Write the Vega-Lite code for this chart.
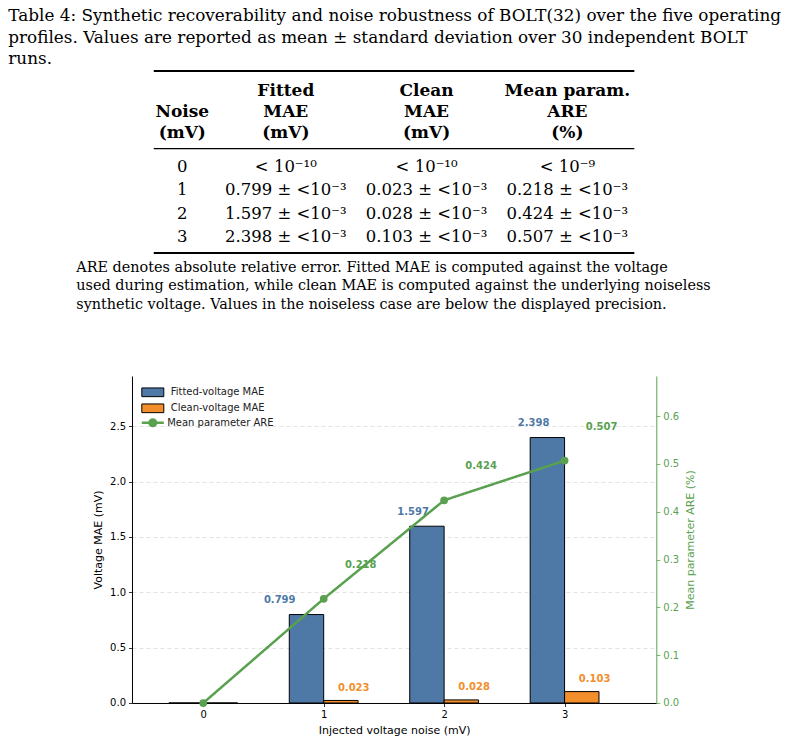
{
  "$schema": "https://vega.github.io/schema/vega-lite/v6.json",
  "background": "white",
  "padding": {"left": 8, "top": 8, "right": 0, "bottom": 0},
  "title": {
    "text": [
      "Table 4: Synthetic recoverability and noise robustness of BOLT(32) over the five operating",
      "profiles.  Values are reported as mean ± standard deviation over 30 independent BOLT",
      "runs."
    ],
    "anchor": "start",
    "frame": "group",
    "dx": -123.7,
    "offset": 2,
    "font": "DejaVu Serif",
    "fontSize": 16.85,
    "fontWeight": "normal",
    "color": "black",
    "baseline": "top",
    "lineHeight": 21.5
  },
  "datasets": {
    "runs": [
      {"noise": 0, "fitted_mae": 0, "clean_mae": 0, "are": 0},
      {"noise": 1, "fitted_mae": 0.799, "clean_mae": 0.023, "are": 0.218},
      {"noise": 2, "fitted_mae": 1.597, "clean_mae": 0.028, "are": 0.424},
      {"noise": 3, "fitted_mae": 2.398, "clean_mae": 0.103, "are": 0.507}
    ],
    "cells": [
      {"row": 0, "col": 0, "text": "\nNoise\n(mV)"},
      {"row": 0, "col": 1, "text": "Fitted\nMAE\n(mV)"},
      {"row": 0, "col": 2, "text": "Clean\nMAE\n(mV)"},
      {"row": 0, "col": 3, "text": "Mean param.\nARE\n(%)"},
      {"row": 1, "col": 0, "text": "0"},
      {"row": 1, "col": 1, "text": "< 10⁻¹⁰"},
      {"row": 1, "col": 2, "text": "< 10⁻¹⁰"},
      {"row": 1, "col": 3, "text": "< 10⁻⁹"},
      {"row": 2, "col": 0, "text": "1"},
      {"row": 2, "col": 1, "text": "0.799 ± <10⁻³"},
      {"row": 2, "col": 2, "text": "0.023 ± <10⁻³"},
      {"row": 2, "col": 3, "text": "0.218 ± <10⁻³"},
      {"row": 3, "col": 0, "text": "2"},
      {"row": 3, "col": 1, "text": "1.597 ± <10⁻³"},
      {"row": 3, "col": 2, "text": "0.028 ± <10⁻³"},
      {"row": 3, "col": 3, "text": "0.424 ± <10⁻³"},
      {"row": 4, "col": 0, "text": "3"},
      {"row": 4, "col": 1, "text": "2.398 ± <10⁻³"},
      {"row": 4, "col": 2, "text": "0.103 ± <10⁻³"},
      {"row": 4, "col": 3, "text": "0.507 ± <10⁻³"}
    ],
    "rules": [
      {"edge": "top"}
    ]
  },
  "config": {
    "view": {"stroke": null},
    "axis": {"labelFont": "DejaVu Sans", "titleFont": "DejaVu Sans"}
  },
  "bounds": "flush",
  "spacing": 123,
  "resolve": {
    "scale": {"color": "independent", "strokeDash": "independent"},
    "legend": {"color": "independent", "strokeDash": "independent"}
  },
  "vconcat": [
    {
      "width": 524.3,
      "height": 182,
      "title": {
        "text": [
          "ARE denotes absolute relative error.  Fitted MAE is computed against the voltage",
          "used during estimation, while clean MAE is computed against the underlying noiseless",
          "synthetic voltage. Values in the noiseless case are below the displayed precision."
        ],
        "orient": "bottom",
        "anchor": "start",
        "frame": "group",
        "align": "left",
        "dx": -55.7,
        "offset": 6.5,
        "font": "DejaVu Serif",
        "fontSize": 14.4,
        "fontWeight": "normal",
        "color": "black",
        "baseline": "top",
        "lineHeight": 18.7
      },
      "layer": [
        {
          "data": {"name": "rules"},
          "mark": {"type": "rule", "color": "black", "strokeWidth": 2},
          "encoding": {
            "x": {"datum": 0.062, "type": "quantitative", "scale": {"domain": [-0.0927, 3.632], "nice": false, "zero": false}, "axis": null},
            "x2": {"datum": 3.476},
            "y": {"datum": -3.33, "type": "quantitative", "scale": {"domain": [-3.33, 4.47], "reverse": true, "nice": false, "zero": false}, "axis": null}
          }
        },
        {
          "data": {"name": "rules"},
          "mark": {"type": "rule", "color": "black", "strokeWidth": 1.2},
          "encoding": {
            "x": {"datum": 0.062, "type": "quantitative", "scale": {"domain": [-0.0927, 3.632], "nice": false, "zero": false}, "axis": null},
            "x2": {"datum": 3.476},
            "y": {"datum": 0, "type": "quantitative", "scale": {"domain": [-3.33, 4.47], "reverse": true, "nice": false, "zero": false}, "axis": null}
          }
        },
        {
          "data": {"name": "rules"},
          "mark": {"type": "rule", "color": "black", "strokeWidth": 2},
          "encoding": {
            "x": {"datum": 0.062, "type": "quantitative", "scale": {"domain": [-0.0927, 3.632], "nice": false, "zero": false}, "axis": null},
            "x2": {"datum": 3.476},
            "y": {"datum": 4.47, "type": "quantitative", "scale": {"domain": [-3.33, 4.47], "reverse": true, "nice": false, "zero": false}, "axis": null}
          }
        },
        {
          "data": {"name": "cells"},
          "transform": [{"filter": "datum.row == 0 && datum.col > 0"}],
          "mark": {"type": "text", "font": "DejaVu Serif", "fontSize": 17, "fontWeight": "bold", "align": "center", "baseline": "alphabetic", "lineBreak": "\n", "lineHeight": 21, "dy": -52.7, "color": "black"},
          "encoding": {
            "x": {"field": "col", "type": "quantitative", "scale": {"domain": [-0.0927, 3.632], "nice": false, "zero": false}, "axis": null},
            "y": {"field": "row", "type": "quantitative", "scale": {"domain": [-3.33, 4.47], "reverse": true, "nice": false, "zero": false}, "axis": null},
            "text": {"field": "text"}
          }
        },
        {
          "data": {"name": "cells"},
          "transform": [{"filter": "datum.row == 0 && datum.col == 0"}],
          "mark": {"type": "text", "font": "DejaVu Serif", "fontSize": 17, "fontWeight": "bold", "align": "center", "baseline": "alphabetic", "lineBreak": "\n", "lineHeight": 21, "dy": -52.7, "dx": 37.2, "color": "black"},
          "encoding": {
            "x": {"field": "col", "type": "quantitative", "scale": {"domain": [-0.0927, 3.632], "nice": false, "zero": false}, "axis": null},
            "y": {"field": "row", "type": "quantitative", "scale": {"domain": [-3.33, 4.47], "reverse": true, "nice": false, "zero": false}, "axis": null},
            "text": {"field": "text"}
          }
        },
        {
          "data": {"name": "cells"},
          "transform": [{"filter": "datum.row > 0 && datum.col > 0"}],
          "mark": {"type": "text", "font": "DejaVu Serif", "fontSize": 16.5, "align": "center", "baseline": "alphabetic", "color": "black"},
          "encoding": {
            "x": {"field": "col", "type": "quantitative", "scale": {"domain": [-0.0927, 3.632], "nice": false, "zero": false}, "axis": null},
            "y": {"field": "row", "type": "quantitative", "scale": {"domain": [-3.33, 4.47], "reverse": true, "nice": false, "zero": false}, "axis": null},
            "text": {"field": "text"}
          }
        },
        {
          "data": {"name": "cells"},
          "transform": [{"filter": "datum.row > 0 && datum.col == 0"}],
          "mark": {"type": "text", "font": "DejaVu Serif", "fontSize": 16.5, "align": "center", "baseline": "alphabetic", "dx": 37.2, "color": "black"},
          "encoding": {
            "x": {"field": "col", "type": "quantitative", "scale": {"domain": [-0.0927, 3.632], "nice": false, "zero": false}, "axis": null},
            "y": {"field": "row", "type": "quantitative", "scale": {"domain": [-3.33, 4.47], "reverse": true, "nice": false, "zero": false}, "axis": null},
            "text": {"field": "text"}
          }
        }
      ]
    },
    {
      "width": 524.3,
      "height": 327,
      "data": {"name": "runs"},
      "layer": [
        {
          "encoding": {
            "x": {
              "field": "noise",
              "type": "quantitative",
              "title": "Injected voltage noise (mV)",
              "scale": {"domain": [-0.55, 3.72], "nice": false, "zero": false},
              "axis": {
                "values": [0, 1, 2, 3],
                "format": "d",
                "grid": false,
                "domainColor": "black",
                "domainWidth": 1,
                "tickColor": "black",
                "tickSize": 3.5,
                "tickWidth": 0.8,
                "labelFontSize": 10,
                "labelColor": "black",
                "labelPadding": 3,
                "titleFontSize": 11,
                "titleFontWeight": "normal",
                "titleColor": "black",
                "titlePadding": 5
              }
            },
            "y": {
              "field": "fitted_mae",
              "type": "quantitative",
              "title": "Voltage MAE (mV)",
              "scale": {"domain": [0, 2.954], "nice": false},
              "axis": {
                "orient": "left",
                "values": [0, 0.5, 1, 1.5, 2, 2.5],
                "format": ".1f",
                "grid": true,
                "gridColor": "#dcdcdc",
                "gridDash": [4, 3],
                "gridWidth": 0.8,
                "domainColor": "black",
                "domainWidth": 1,
                "tickColor": "black",
                "tickSize": 3.5,
                "tickWidth": 0.8,
                "labelFontSize": 10,
                "labelColor": "black",
                "labelPadding": 3,
                "titleFontSize": 11,
                "titleFontWeight": "normal",
                "titleColor": "black",
                "titlePadding": 6
              }
            }
          },
          "layer": [
            {
              "mark": {"type": "bar", "width": 34.4, "xOffset": -17.2, "stroke": "black", "strokeWidth": 1},
              "encoding": {
                "color": {
                  "datum": "Fitted-voltage MAE",
                  "scale": {
                    "domain": ["Fitted-voltage MAE", "Clean-voltage MAE"],
                    "range": ["#4E79A7", "#F28E2B"]
                  },
                  "legend": {
                    "title": null,
                    "orient": "none",
                    "legendX": 10.3,
                    "legendY": 10.8,
                    "padding": 0,
                    "symbolSize": 100,
                    "symbolType": "M-1.2,-0.87H3.2V0.87H-1.2Z",
                    "symbolStrokeColor": "black",
                    "symbolStrokeWidth": 1,
                    "symbolOpacity": 1,
                    "labelFont": "DejaVu Sans",
                    "labelFontSize": 10,
                    "labelColor": "#222222",
                    "labelOffset": 17.4,
                    "rowPadding": 3
                  }
                }
              }
            },
            {
              "mark": {"type": "bar", "width": 34.4, "xOffset": 17.2, "stroke": "black", "strokeWidth": 1},
              "encoding": {
                "y": {
                  "field": "clean_mae",
                  "type": "quantitative",
                  "title": "Voltage MAE (mV)",
                  "scale": {"domain": [0, 2.954], "nice": false},
                  "axis": {
                    "orient": "left",
                    "values": [0, 0.5, 1, 1.5, 2, 2.5],
                    "format": ".1f",
                    "grid": true,
                    "gridColor": "#dcdcdc",
                    "gridDash": [4, 3],
                    "gridWidth": 0.8,
                    "domainColor": "black",
                    "domainWidth": 1,
                    "tickColor": "black",
                    "tickSize": 3.5,
                    "tickWidth": 0.8,
                    "labelFontSize": 10,
                    "labelColor": "black",
                    "labelPadding": 3,
                    "titleFontSize": 11,
                    "titleFontWeight": "normal",
                    "titleColor": "black",
                    "titlePadding": 6
                  }
                },
                "color": {"datum": "Clean-voltage MAE"}
              }
            },
            {
              "transform": [{"filter": "datum.noise == 1"}],
              "mark": {"type": "text", "font": "DejaVu Sans", "fontSize": 10, "fontWeight": "bold", "color": "#4E79A7", "align": "center", "baseline": "middle", "dx": -44, "dy": -14.4},
              "encoding": {"text": {"field": "fitted_mae", "type": "quantitative", "format": ".3f"}}
            },
            {
              "transform": [{"filter": "datum.noise > 1"}],
              "mark": {"type": "text", "font": "DejaVu Sans", "fontSize": 10, "fontWeight": "bold", "color": "#4E79A7", "align": "center", "baseline": "middle", "dx": -31, "dy": -14.4},
              "encoding": {"text": {"field": "fitted_mae", "type": "quantitative", "format": ".3f"}}
            },
            {
              "transform": [{"filter": "datum.noise > 0"}],
              "mark": {"type": "text", "font": "DejaVu Sans", "fontSize": 10, "fontWeight": "bold", "color": "#F28E2B", "align": "center", "baseline": "middle", "dx": 30, "dy": -12.7},
              "encoding": {
                "y": {
                  "field": "clean_mae",
                  "type": "quantitative",
                  "title": "Voltage MAE (mV)",
                  "scale": {"domain": [0, 2.954], "nice": false},
                  "axis": {
                    "orient": "left",
                    "values": [0, 0.5, 1, 1.5, 2, 2.5],
                    "format": ".1f",
                    "grid": true,
                    "gridColor": "#dcdcdc",
                    "gridDash": [4, 3],
                    "gridWidth": 0.8,
                    "domainColor": "black",
                    "domainWidth": 1,
                    "tickColor": "black",
                    "tickSize": 3.5,
                    "tickWidth": 0.8,
                    "labelFontSize": 10,
                    "labelColor": "black",
                    "labelPadding": 3,
                    "titleFontSize": 11,
                    "titleFontWeight": "normal",
                    "titleColor": "black",
                    "titlePadding": 6
                  }
                },
                "text": {"field": "clean_mae", "type": "quantitative", "format": ".3f"}
              }
            }
          ]
        },
        {
          "encoding": {
            "x": {
              "field": "noise",
              "type": "quantitative",
              "title": "Injected voltage noise (mV)",
              "scale": {"domain": [-0.55, 3.72], "nice": false, "zero": false},
              "axis": {
                "values": [0, 1, 2, 3],
                "format": "d",
                "grid": false,
                "domainColor": "black",
                "domainWidth": 1,
                "tickColor": "black",
                "tickSize": 3.5,
                "tickWidth": 0.8,
                "labelFontSize": 10,
                "labelColor": "black",
                "labelPadding": 3,
                "titleFontSize": 11,
                "titleFontWeight": "normal",
                "titleColor": "black",
                "titlePadding": 5
              }
            },
            "y": {
              "field": "are",
              "type": "quantitative",
              "title": "Mean parameter ARE (%)",
              "scale": {"domain": [0, 0.684], "nice": false},
              "axis": {
                "orient": "right",
                "values": [0, 0.1, 0.2, 0.3, 0.4, 0.5, 0.6],
                "format": ".1f",
                "grid": false,
                "domainColor": "#59A14F",
                "domainWidth": 1,
                "tickColor": "#59A14F",
                "tickSize": 3.5,
                "tickWidth": 0.8,
                "labelFontSize": 10,
                "labelColor": "#59A14F",
                "labelPadding": 3,
                "titleFontSize": 11,
                "titleFontWeight": "normal",
                "titleColor": "#59A14F",
                "titleAngle": 270,
                "titleBaseline": "top",
                "titlePadding": 6
              }
            }
          },
          "layer": [
            {
              "mark": {"type": "line", "color": "#59A14F", "stroke": "#59A14F", "strokeWidth": 2.5, "point": {"filled": true, "size": 60, "color": "#59A14F"}},
              "encoding": {
                "strokeDash": {
                  "datum": "Mean parameter ARE",
                  "scale": {"domain": ["Mean parameter ARE"], "range": [[1, 0]]},
                  "legend": {
                    "title": null,
                    "orient": "none",
                    "legendX": 10.3,
                    "legendY": 41.3,
                    "padding": 0,
                    "symbolSize": 100,
                    "symbolType": "M-1.2,-0.25H3.2V0.25H-1.2Z M0.1,0A0.9,0.9 0 1,1 1.9,0A0.9,0.9 0 1,1 0.1,0Z",
                    "symbolStrokeColor": "#59A14F",
                    "symbolFillColor": "#59A14F",
                    "symbolStrokeWidth": 1,
                    "symbolOpacity": 1,
                    "labelFont": "DejaVu Sans",
                    "labelFontSize": 10,
                    "labelColor": "#222222",
                    "labelOffset": 13.9
                  }
                }
              }
            },
            {
              "transform": [{"filter": "datum.noise > 0"}],
              "mark": {"type": "text", "font": "DejaVu Sans", "fontSize": 10, "fontWeight": "bold", "color": "#59A14F", "align": "center", "baseline": "middle", "dx": 37, "dy": -34},
              "encoding": {"text": {"field": "are", "type": "quantitative", "format": ".3f"}}
            }
          ]
        }
      ],
      "resolve": {"scale": {"y": "independent"}, "axis": {"y": "independent"}}
    }
  ]
}
